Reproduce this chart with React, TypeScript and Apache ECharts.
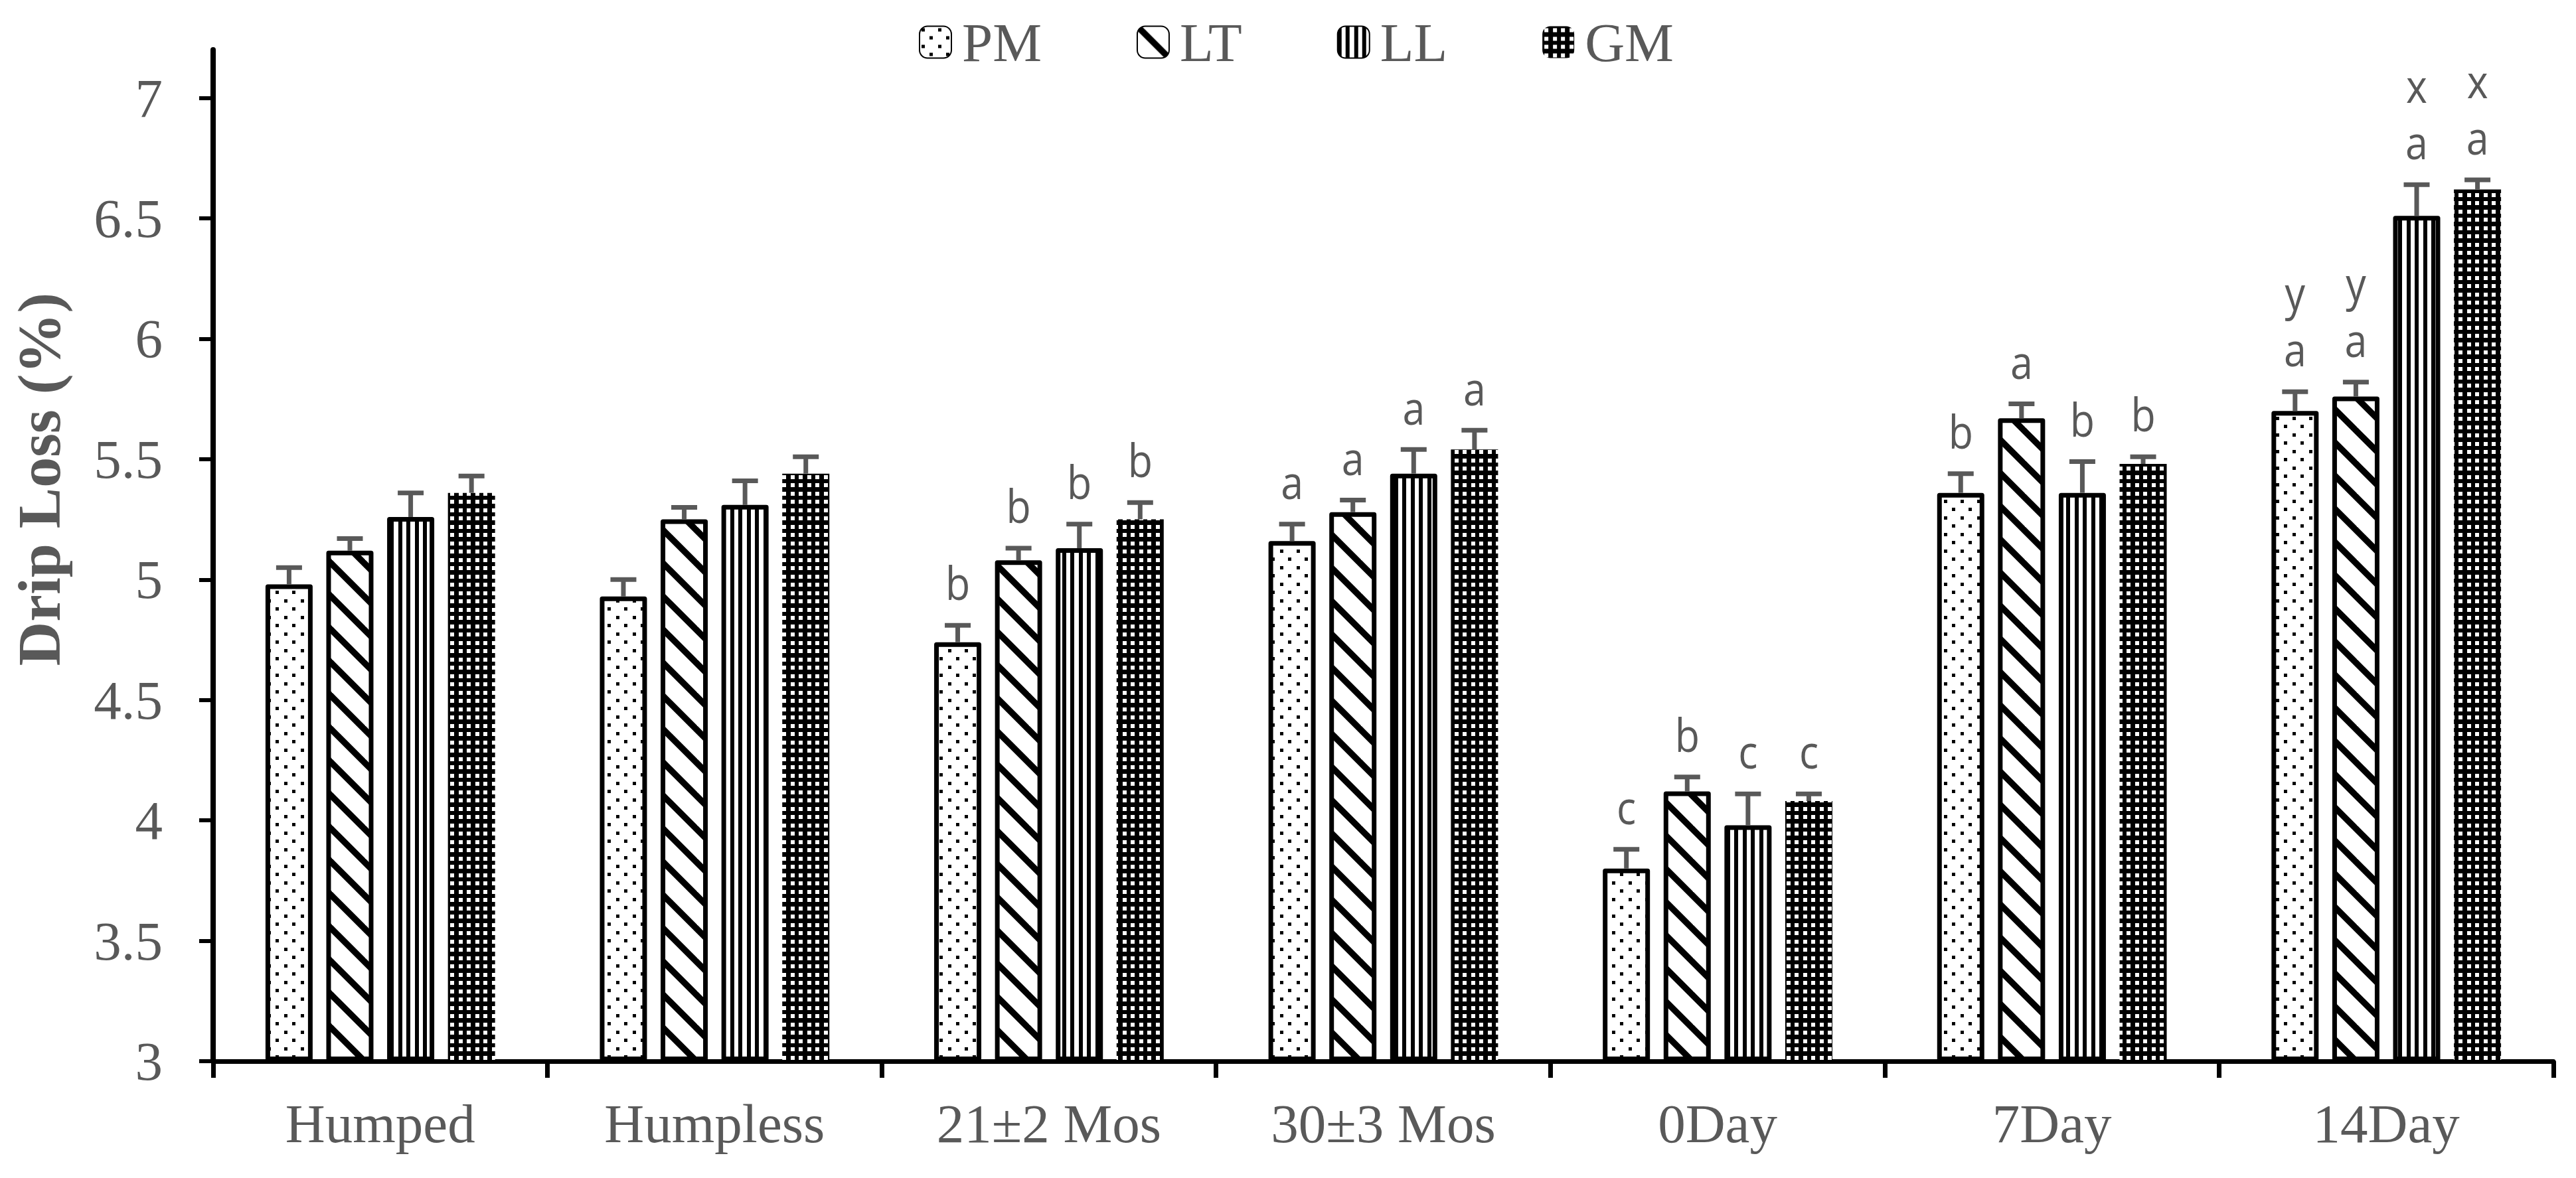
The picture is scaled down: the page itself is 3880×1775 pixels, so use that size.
import React, { useEffect, useRef } from "react";
import * as echarts from "echarts";

const categories = ["Humped", "Humpless", "21±2 Mos", "30±3 Mos", "0Day", "7Day", "14Day"];
const seriesNames = ["PM", "LT", "LL", "GM"];

const pmValues = [4.98, 4.93, 4.74, 5.16, 3.8, 5.36, 5.7];
const ltValues = [5.12, 5.25, 5.08, 5.28, 4.12, 5.67, 5.76];
const llValues = [5.26, 5.31, 5.13, 5.44, 3.98, 5.36, 6.51];
const gmValues = [5.36, 5.44, 5.25, 5.54, 4.08, 5.48, 6.62];

const pmErr = [0.07, 0.07, 0.07, 0.07, 0.08, 0.08, 0.08];
const ltErr = [0.05, 0.05, 0.05, 0.05, 0.06, 0.06, 0.06];
const llErr = [0.1, 0.1, 0.1, 0.1, 0.13, 0.13, 0.13];
const gmErr = [0.07, 0.07, 0.07, 0.08, 0.03, 0.03, 0.04];

const pmLetters = ["", "", "b", "a", "c", "b", "a"];
const ltLetters = ["", "", "b", "a", "b", "a", "a"];
const llLetters = ["", "", "b", "a", "c", "b", "a"];
const gmLetters = ["", "", "b", "a", "c", "b", "a"];

const pmLetters2 = ["", "", "", "", "", "", "y"];
const ltLetters2 = ["", "", "", "", "", "", "y"];
const llLetters2 = ["", "", "", "", "", "", "x"];
const gmLetters2 = ["", "", "", "", "", "", "x"];

const yTicks = [3, 3.5, 4, 4.5, 5, 5.5, 6, 6.5, 7];

const TEXT = "#595959";
const SERIF = '"Liberation Serif", "Times New Roman", serif';

function tile(w: number, h: number, draw: (c: CanvasRenderingContext2D) => void) {
  const c = document.createElement("canvas");
  c.width = w;
  c.height = h;
  const ctx = c.getContext("2d") as CanvasRenderingContext2D;
  draw(ctx);
  return { image: c, repeat: "repeat", imageWidth: w, imageHeight: h } as any;
}

function makePatterns() {
  const pm = tile(25, 25, (c) => {
    c.fillStyle = "#fff";
    c.fillRect(0, 0, 25, 25);
    c.fillStyle = "#000";
    c.fillRect(3, 3, 5, 5);
    c.fillRect(15, 15, 5, 5);
  });
  const lt = tile(50, 50, (c) => {
    c.fillStyle = "#fff";
    c.fillRect(0, 0, 50, 50);
    c.strokeStyle = "#000";
    c.lineWidth = 9.5;
    for (let k = -1; k <= 1; k++) {
      c.beginPath();
      c.moveTo(-10, -10 + k * 50);
      c.lineTo(60, 60 + k * 50);
      c.stroke();
    }
  });
  const ll = tile(25, 25, (c) => {
    c.fillStyle = "#fff";
    c.fillRect(0, 0, 25, 25);
    c.fillStyle = "#000";
    c.fillRect(0, 0, 6, 25);
    c.fillRect(12, 0, 6, 25);
  });
  const gm = tile(25, 25, (c) => {
    c.fillStyle = "#000";
    c.fillRect(0, 0, 25, 25);
    c.fillStyle = "#fff";
    c.fillRect(3, 3, 6, 6);
    c.fillRect(16, 3, 6, 6);
    c.fillRect(3, 16, 6, 6);
    c.fillRect(16, 16, 6, 6);
  });
  return [pm, lt, ll, gm];
}

export default function App() {
  const ref = useRef<HTMLDivElement>(null);

  useEffect(() => {
    document.body.style.margin = "0";
    document.body.style.overflow = "hidden";
    if (!ref.current) return;
    const chart = echarts.init(ref.current, undefined, { renderer: "svg" });

    const patterns = makePatterns();
    const values = [pmValues, ltValues, llValues, gmValues];
    const errs = [pmErr, ltErr, llErr, gmErr];
    const letters = [pmLetters, ltLetters, llLetters, gmLetters];
    const letters2 = [pmLetters2, ltLetters2, llLetters2, gmLetters2];
    const barWidth = 71;
    const barGapRatio = 0.29;
    const step = barWidth * (1 + barGapRatio);

    const barSeries = seriesNames.map((name, i) => ({
      name,
      type: "bar",
      data: values[i],
      barWidth,
      barGap: "29%",
      itemStyle: {
        color: patterns[i],
        borderColor: "#000",
        borderWidth: i === 3 ? 0 : 7,
        borderJoin: "round",
      },
      emphasis: { disabled: true },
      z: 2,
    }));

    const errSeries = seriesNames.map((name, i) => ({
      name: name + " error",
      type: "custom",
      silent: true,
      z: 3,
      encode: { x: 0, y: 1 },
      data: values[i].map((v, j) => [j, v, errs[i][j]]),
      renderItem: (params: any, api: any) => {
        const cat = api.value(0);
        const mean = api.value(1);
        const se = api.value(2);
        const base = api.coord([cat, mean]);
        const top = api.coord([cat, mean + se]);
        const x = base[0] + (i - 1.5) * step;
        const children: any[] = [
          {
            type: "line",
            shape: { x1: x, y1: base[1], x2: x, y2: top[1] },
            style: { stroke: TEXT, lineWidth: 7 },
          },
          {
            type: "line",
            shape: { x1: x - 19.5, y1: top[1], x2: x + 19.5, y2: top[1] },
            style: { stroke: TEXT, lineWidth: 7 },
          },
        ];
        const l1 = letters[i][params.dataIndex];
        const l2 = letters2[i][params.dataIndex];
        const y1 = top[1] - 65;
        if (l1) {
          children.push({
            type: "text",
            x,
            y: y1,
            scaleX: 0.87,
            style: {
              text: l1,
              fill: TEXT,
              font: '70px "Open Sans", sans-serif',
              align: "center",
              verticalAlign: "middle",
            },
          });
        }
        if (l2) {
          children.push({
            type: "text",
            x,
            y: y1 - 85,
            scaleX: 0.87,
            style: {
              text: l2,
              fill: TEXT,
              font: '70px "Open Sans", sans-serif',
              align: "center",
              verticalAlign: "middle",
            },
          });
        }
        return { type: "group", children };
      },
    }));

    chart.setOption({
      animation: false,
      backgroundColor: "#fff",
      grid: { left: 321, right: 34, top: 75, bottom: 176, containLabel: false },
      legend: {
        data: seriesNames,
        left: 1379,
        top: 17,
        icon: "roundRect",
        itemWidth: 48,
        itemHeight: 48,
        itemGap: 143,
        selectedMode: false,
        textStyle: {
          fontFamily: SERIF,
          fontSize: 83,
          lineHeight: 83,
          color: TEXT,
          padding: [0, 0, 0, 11],
        },
      },
      xAxis: {
        type: "category",
        data: categories,
        axisLine: { show: true, lineStyle: { color: "#000", width: 7 } },
        axisTick: { show: true, length: 25, lineStyle: { color: "#000", width: 7 } },
        axisLabel: {
          fontFamily: SERIF,
          fontSize: 83,
          lineHeight: 83,
          color: TEXT,
          margin: 52,
          interval: 0,
        },
        splitLine: { show: false },
      },
      yAxis: {
        type: "value",
        min: 3,
        max: 7.2,
        interval: 0.5,
        startValue: 3,
        axisLine: { show: true, lineStyle: { color: "#000", width: 8 } },
        axisTick: {
          show: true,
          length: 21,
          customValues: yTicks,
          lineStyle: { color: "#000", width: 6 },
        },
        axisLabel: {
          customValues: yTicks,
          fontFamily: SERIF,
          fontSize: 83,
          color: TEXT,
          margin: 76,
        },
        splitLine: { show: false },
      },
      graphic: [
        {
          type: "text",
          x: 59,
          y: 722,
          rotation: Math.PI / 2,
          style: {
            text: "Drip Loss (%)",
            font: 'bold 92px "Liberation Serif", serif',
            fill: TEXT,
            align: "center",
            verticalAlign: "middle",
          },
        },
      ],
      series: [...barSeries, ...errSeries],
    } as any);

    return () => {
      chart.dispose();
    };
  }, []);

  return <div ref={ref} style={{ width: 3880, height: 1775 }} />;
}
